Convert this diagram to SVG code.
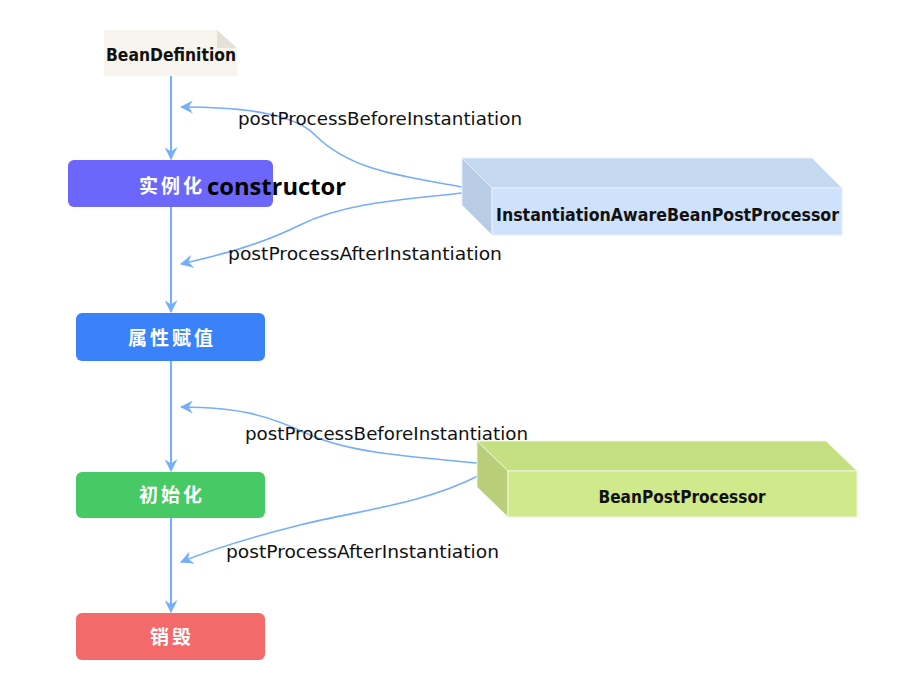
<svg xmlns="http://www.w3.org/2000/svg" width="898" height="682" viewBox="0 0 898 682">
<defs>
<marker id="arr" viewBox="0 0 12 12" refX="11" refY="6" markerWidth="13" markerHeight="13" markerUnits="userSpaceOnUse" orient="auto">
<path d="M0,0 L12,6 L0,12 L4,6 z" fill="#74aefc"/>
</marker>
<style>
.flow{fill:none;stroke:#74aefc;stroke-width:2}
.cur{fill:none;stroke:#74aefc;stroke-width:1.6}
.lbl{font-family:"DejaVu Sans","Liberation Sans",sans-serif;font-size:17.5px;fill:#111}
.cn{font-family:"Noto Sans CJK SC",sans-serif;font-size:19px;font-weight:bold;fill:#fff;letter-spacing:3px}
.bx{font-family:"DejaVu Sans","Liberation Sans",sans-serif;font-size:17.5px;font-weight:bold;fill:#111}
</style>
</defs>
<rect width="898" height="682" fill="#ffffff"/>

<g id="connectors">
<path class="flow" d="M171 76 V159" marker-end="url(#arr)"/>
<path class="flow" d="M171 207 V312" marker-end="url(#arr)"/>
<path class="flow" d="M171 361 V471" marker-end="url(#arr)"/>
<path class="flow" d="M171 518 V612" marker-end="url(#arr)"/>
<path class="cur" d="M462 187 C400 176, 350 170, 315 135 C295 115, 250 107, 181 107" marker-end="url(#arr)"/>
<path class="cur" d="M462 193 C400 200, 345 203, 300 225 C260 245, 220 255, 181 264" marker-end="url(#arr)"/>
<path class="cur" d="M477 463 C400 456, 350 452, 310 435 C270 416, 240 407, 181 407" marker-end="url(#arr)"/>
<path class="cur" d="M478 476 C420 505, 360 510, 300 525 C240 540, 210 550, 181 562" marker-end="url(#arr)"/>
<text class="lbl" x="238" y="125" textLength="284" lengthAdjust="spacingAndGlyphs">postProcessBeforeInstantiation</text>
<text class="lbl" x="228" y="260" textLength="274" lengthAdjust="spacingAndGlyphs">postProcessAfterInstantiation</text>
<text class="lbl" x="245" y="440" textLength="283" lengthAdjust="spacingAndGlyphs">postProcessBeforeInstantiation</text>
<text class="lbl" x="226" y="558" textLength="273" lengthAdjust="spacingAndGlyphs">postProcessAfterInstantiation</text>
</g>

<g id="beanDefinition">
<path d="M104 30 H217 L237 48 V76 H104 Z" fill="#f7f5ed"/>
<path d="M217 30 L237 48 H217 Z" fill="#e4e1d6"/>
<text class="bx" x="106" y="61" textLength="130" lengthAdjust="spacingAndGlyphs">BeanDefinition</text>
</g>

<g id="instantiate">
<rect x="68" y="160" width="205" height="47" rx="6" fill="#6c66fb"/>
<text class="cn" x="139" y="193">实例化</text>
<text x="207" y="195" font-family="'Open Sans','Liberation Sans',sans-serif" font-size="24" font-weight="bold" fill="#000" textLength="139" lengthAdjust="spacingAndGlyphs">constructor</text>
</g>

<g id="populate">
<rect x="76" y="313" width="189" height="48" rx="6" fill="#3a82f9"/>
<text class="cn" x="172" y="345" text-anchor="middle">属性赋值</text>
</g>

<g id="initialize">
<rect x="76" y="472" width="189" height="46" rx="6" fill="#47ca65"/>
<text class="cn" x="172" y="502" text-anchor="middle">初始化</text>
</g>

<g id="destroy">
<rect x="76" y="613" width="189" height="47" rx="6" fill="#f4696a"/>
<text class="cn" x="172" y="644" text-anchor="middle">销毁</text>
</g>

<g id="instantiationAwareBPP">
<polygon points="462,158 812,158 842,188 492,188" fill="#c4d8f0" stroke="#e6eefa" stroke-width="1"/>
<polygon points="462,158 492,188 492,235 462,205" fill="#b8cce6" stroke="#e6eefa" stroke-width="1"/>
<rect x="492" y="188" width="350" height="47" fill="#cfe2fb" stroke="#e6eefa" stroke-width="1"/>
<text class="bx" x="496" y="221" textLength="343" lengthAdjust="spacingAndGlyphs">InstantiationAwareBeanPostProcessor</text>
</g>

<g id="beanPostProcessor">
<polygon points="477,441 826,441 857,471 508,471" fill="#c5df83" stroke="#eef6dc" stroke-width="1"/>
<polygon points="477,441 508,471 508,517 477,487" fill="#b8ce78" stroke="#eef6dc" stroke-width="1"/>
<rect x="508" y="471" width="349" height="46" fill="#d0e98a" stroke="#eef6dc" stroke-width="1"/>
<text class="bx" x="682" y="503" text-anchor="middle" textLength="167" lengthAdjust="spacingAndGlyphs">BeanPostProcessor</text>
</g>
</svg>
